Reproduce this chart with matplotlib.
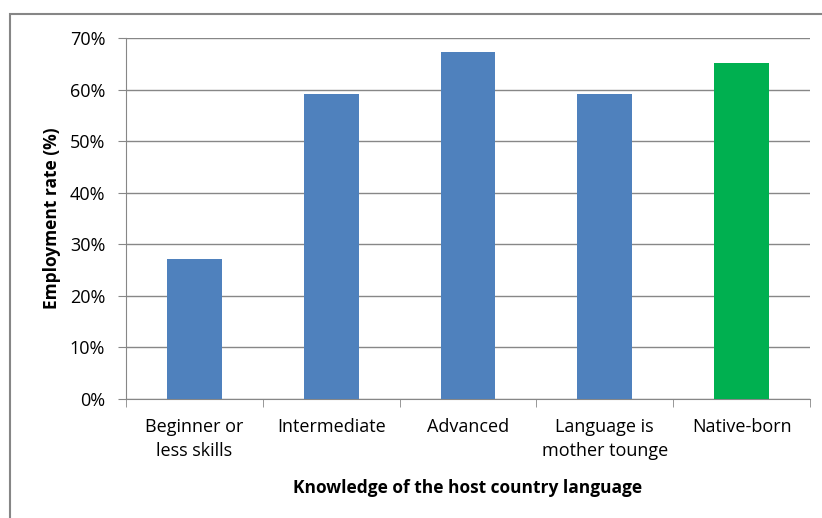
import matplotlib.pyplot as plt
from matplotlib.patches import Rectangle
from matplotlib.ticker import FuncFormatter

CATEGORIES = ['Beginner or\nless skills', 'Intermediate', 'Advanced',
              'Language is\nmother tounge', 'Native-born']
RATES = [27.2, 59.2, 67.2, 59.2, 65.2]
BAR_COLORS = ['#4F81BD', '#4F81BD', '#4F81BD', '#4F81BD', '#00B050']

plt.rcParams['font.family'] = ['Open Sans', 'DejaVu Sans']

fig = plt.figure(figsize=(8.22, 5.18), dpi=100)
ax = fig.add_axes([126 / 822, 1 - 399 / 518, 684 / 822, 361 / 518])

x = list(range(len(CATEGORIES)))
ax.bar(x, RATES, width=0.4, color=BAR_COLORS, zorder=3)

ax.set_xlim(-0.5, len(CATEGORIES) - 0.5)
ax.set_ylim(0, 70)
ax.set_yticks(range(0, 71, 10))
ax.yaxis.set_major_formatter(FuncFormatter(lambda v, p: '%d%%' % v))
ax.grid(axis='y', color='#878787', linewidth=1, zorder=0)

ax.set_xticks(x)
ax.set_xticklabels(CATEGORIES, fontsize=13, linespacing=1.4)
ax.set_xticks([i - 0.5 for i in range(len(CATEGORIES) + 1)], minor=True)
ax.tick_params(axis='x', which='major', length=0, pad=14)
ax.tick_params(axis='x', which='minor', length=6, color='#878787')
ax.tick_params(axis='y', length=6, color='#878787', labelsize=13, pad=9)

for s in ['top', 'right']:
    ax.spines[s].set_visible(False)
for s in ['left', 'bottom']:
    ax.spines[s].set_color('#878787')

ax.set_ylabel('Employment rate (%)', fontsize=12.5, fontweight='bold', labelpad=6)
ax.set_xlabel('Knowledge of the host country language', fontsize=12.5,
              fontweight='bold', labelpad=14)

# outer chart frame
fig.patches.append(Rectangle((10 / 822, -0.05), 1.0, 1 - 14 / 518 + 0.05,
                             transform=fig.transFigure, fill=False,
                             edgecolor='#868686', linewidth=1.5))

fig.savefig('out.png', dpi=100)
